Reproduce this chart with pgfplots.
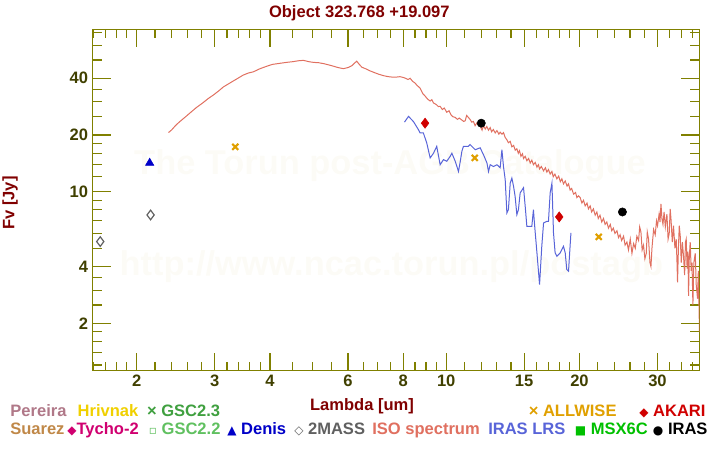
\documentclass[border=0pt]{standalone}
\usepackage{pgfplots}
\pgfplotsset{compat=1.18}
\usepackage{fontspec}
\setmainfont{Liberation Sans}
\newfontfamily\symf{DejaVu Sans}

\definecolor{axcol}{RGB}{128,128,0}
\definecolor{tickcol}{RGB}{64,64,0}
\definecolor{titcol}{RGB}{128,0,0}
\definecolor{isocol}{RGB}{224,112,96}
\definecolor{lrscol}{RGB}{88,100,216}
\definecolor{akcol}{RGB}{208,0,0}
\definecolor{wisecol}{RGB}{224,160,0}
\definecolor{dencol}{RGB}{0,0,200}
\definecolor{tmcol}{RGB}{96,96,96}
\definecolor{perecol}{RGB}{176,120,136}
\definecolor{hrivcol}{RGB}{240,208,0}
\definecolor{gsc3col}{RGB}{64,160,64}
\definecolor{suarcol}{RGB}{192,136,72}
\definecolor{tychcol}{RGB}{208,0,112}
\definecolor{gsc2col}{RGB}{96,192,96}
\definecolor{msxcol}{RGB}{0,192,0}
\definecolor{wmcol}{RGB}{252,251,246}

\newcommand{\lf}{\bfseries\fontsize{12.4}{14}\selectfont}
\newcommand{\sy}[1]{{\symf\fontsize{9}{10}\selectfont #1}}

\begin{document}
\begin{tikzpicture}
\useasboundingbox (0,0) rectangle (540pt,337.5pt);

% faint watermark
\node[anchor=base, inner sep=0, text=wmcol, font=\bfseries\fontsize{25.8}{28}\selectfont] at (292.5pt,206.25pt) {The Torun post-AGB Catalogue};
\node[anchor=base, inner sep=0, text=wmcol, font=\bfseries\fontsize{25.8}{28}\selectfont] at (293.5pt,131.25pt) {http://www.ncac.torun.pl/postagb};

\begin{axis}[
  at={(69.5pt,59.5pt)}, anchor=south west,
  scale only axis,
  width=455pt, height=256pt,
  xmode=log, ymode=log,
  xmin=1.591, xmax=37.3,
  ymin=1.12, ymax=72.8,
  axis line style={axcol, line width=0.9pt},
  every tick/.style={axcol, line width=0.9pt},
  major tick length=13.5pt,
  minor tick length=6.75pt,
  tick align=inside,
  xtick={2,3,4,6,8,10,15,20,30},
  xticklabels={2,3,4,6,8,10,15,20,30},
  minor xtick={1.6,1.7,1.8,1.9,2.2,2.4,2.6,2.8,3.2,3.4,3.6,3.8,4.5,5,5.5,6.5,7,7.5,8.5,9,9.5,11,12,13,14,16,17,18,19,22,24,26,28,32,34,36},
  ytick={2,4,10,20,40},
  yticklabels={2,4,10,20,40},
  minor ytick={1.2,1.4,1.6,1.8,2.5,3,3.5,5,6,7,8,9,12,14,16,18,25,30,35,50,60,70},
  tick label style={font=\lf, text=tickcol},
]

% ISO spectrum
\addplot[isocol, line width=0.75pt, mark=none] coordinates {
  (2.36,20.6)(2.40,21.3)(2.45,22.5)(2.50,23.5)(2.58,25.0)(2.65,26.4)(2.73,28.0)
  (2.82,29.6)(2.90,31.2)(2.98,32.6)(3.06,34.2)(3.14,36.0)(3.22,37.3)(3.28,38.3)
  (3.36,39.6)(3.48,41.6)(3.58,42.7)(3.67,43.3)(3.80,45.0)(3.93,46.3)(4.05,47.4)
  (4.20,48.0)(4.36,48.6)(4.50,49.0)(4.65,49.6)(4.76,49.8)(4.90,49.0)(5.01,48.6)
  (5.15,48.4)(5.30,47.8)(5.45,47.0)(5.56,46.4)(5.70,45.6)(5.86,45.0)(6.00,45.6)
  (6.12,46.6)(6.20,48.0)(6.28,49.3)(6.36,47.5)(6.45,45.8)(6.60,44.8)(6.73,43.8)
  (6.90,42.8)(7.05,42.0)(7.22,41.3)(7.40,40.8)(7.55,40.6)(7.72,40.6)(7.87,40.8)
  (8.00,40.4)(8.10,40.0)(8.20,39.4)(8.29,40.0)(8.40,38.5)(8.50,37.8)(8.60,36.6)
  (8.73,35.5)(8.85,33.2)(8.96,32.2)(9.08,31.0)(9.20,30.3)(9.28,30.8)(9.36,29.6)
  (9.50,29.0)(9.60,28.3)(9.69,28.4)(9.80,27.3)(9.90,27.8)(10.03,26.4)(10.15,26.9)
  (10.25,25.6)(10.35,25.0)(10.48,24.8)(10.60,24.2)(10.70,24.6)(10.85,24.0)
  (10.95,23.6)(11.04,23.8)(11.12,25.4)(11.22,24.8)(11.32,24.2)(11.42,23.4)
  (11.52,23.6)(11.62,22.4)(11.73,23.2)(11.82,22.6)(11.93,22.3)(12.05,21.2)
  (12.14,22.4)(12.25,21.5)(12.35,22.2)(12.46,21.2)(12.57,21.9)(12.66,20.8)
  (12.78,21.4)(12.90,20.5)(13.02,21.1)(13.15,20.2)(13.24,20.7)(13.36,20.2)
  (13.47,20.6)(13.59,19.4)(13.70,18.9)(13.82,18.2)(13.95,18.5)(14.07,17.3)
  (14.20,17.6)(14.32,16.6)(14.44,16.9)(14.55,16.0)(14.64,16.5)(14.75,15.4)
  (14.87,15.9)(14.95,15.0)(15.08,15.4)(15.21,14.6)(15.35,15.0)(15.48,14.2)
  (15.61,14.7)(15.74,13.9)(15.89,14.3)(16.03,13.5)(16.15,13.9)(16.25,13.2)
  (16.40,13.6)(16.59,12.9)(16.75,13.4)(16.88,12.7)(17.02,13.1)(17.17,12.4)
  (17.33,12.8)(17.45,12.0)(17.60,12.4)(17.78,11.7)(17.95,12.1)(18.10,11.3)
  (18.25,11.7)(18.40,11.0)(18.57,11.4)(18.75,10.7)(18.89,11.0)(19.05,10.2)
  (19.20,10.4)(19.40,9.7)(19.60,9.9)(19.73,9.3)(19.90,9.5)
  (20.07,9.3)(20.25,8.7)(20.42,9.0)(20.60,8.4)(20.80,8.7)(20.95,8.1)(21.14,8.4)
  (21.30,7.8)(21.50,8.1)(21.70,7.5)(21.89,7.8)(22.05,7.2)(22.25,7.5)(22.45,6.9)
  (22.66,7.2)(22.85,6.7)(23.05,6.9)(23.25,6.4)(23.47,6.7)(23.65,6.2)(23.85,6.4)
  (24.05,6.0)(24.30,6.2)(24.50,5.7)(24.70,5.9)(24.90,5.5)(25.15,5.8)(25.35,5.2)
  (25.59,5.4)(25.80,4.9)(26.04,5.6)(26.27,4.7)(26.50,5.3)(26.73,5.0)(26.95,5.8)
  (27.19,5.5)(27.35,6.5)(27.53,6.1)(27.70,4.9)(27.90,5.2)(28.10,4.4)(28.30,4.7)
  (28.45,6.1)(28.64,5.6)(28.85,4.2)(29.00,4.0)(29.15,5.0)(29.40,6.3)(29.65,5.9)
  (29.85,7.0)(30.01,6.6)(30.25,7.6)(30.40,6.9)(30.55,8.6)(30.70,7.2)(30.87,6.7)
  (31.05,7.8)(31.25,6.5)(31.51,7.6)(31.70,5.6)(31.89,6.0)(32.05,8.1)(32.18,7.2)
  (32.40,5.4)(32.61,6.6)(32.85,5.0)(33.07,5.6)(33.20,4.3)(33.30,3.3)(33.45,5.0)
  (33.60,6.6)(33.77,5.8)(33.95,4.2)(34.15,5.4)(34.36,4.5)(34.55,3.6)(34.70,5.4)
  (34.84,5.6)(35.00,3.9)(35.15,4.8)(35.26,2.8)(35.40,4.5)(35.57,5.4)(35.75,3.8)
  (35.90,4.2)(36.07,2.5)(36.25,4.2)(36.51,4.7)(36.70,3.2)(36.95,2.7)(37.10,3.8)
  (37.33,1.8)
};

% IRAS LRS
\addplot[lrscol, line width=0.75pt, mark=none] coordinates {
  (8.05,23.4)(8.22,25.1)(8.43,23.6)(8.66,21.3)(8.73,20.5)(8.88,20.5)(9.04,18.1)
  (9.20,15.1)(9.36,16.0)(9.52,17.4)(9.69,13.9)(9.86,14.8)(10.03,14.5)(10.21,15.4)
  (10.30,16.0)(10.48,14.5)(10.66,12.8)(10.76,14.5)(10.85,16.4)(10.94,17.4)
  (11.22,17.4)(11.32,17.8)(11.63,16.7)(11.93,17.1)(12.14,15.7)(12.36,14.2)
  (12.46,12.8)(12.57,13.9)(12.79,13.6)(13.02,13.9)(13.24,13.4)(13.36,16.7)
  (13.47,13.6)(13.59,11.6)(13.71,7.71)(13.82,8.03)(13.95,11.1)(14.07,11.8)
  (14.19,10.7)(14.31,9.44)(14.44,7.55)(14.56,8.03)(14.69,9.84)(14.95,10.5)
  (15.08,8.36)(15.21,6.55)(15.61,6.55)(15.74,8.03)(15.80,7.10)(15.89,6.04)
  (16.03,4.73)(16.25,3.21)(16.44,5.13)(16.59,6.82)(16.88,6.96)(17.02,6.96)
  (17.17,9.84)(17.33,11.1)(17.47,6.04)(17.62,4.73)(17.78,4.54)(18.09,4.73)
  (18.40,5.13)(18.57,4.73)(18.72,3.86)(18.89,3.78)(19.13,6.04)
};

% ALLWISE
\addplot[only marks, mark=x, mark size=3.2pt, wisecol, line width=1.6pt]
  coordinates {(3.34,17.3)(11.6,15.1)(22.1,5.75)};
% AKARI
\addplot[only marks, mark=diamond*, mark size=3.8pt, akcol]
  coordinates {(8.96,23.1)(18.0,7.34)};
% IRAS
\addplot[only marks, mark=*, mark size=3.1pt, black]
  coordinates {(12.0,23.1)(25.0,7.80)};
% Denis
\addplot[only marks, mark=triangle*, mark size=3.6pt, dencol]
  coordinates {(2.14,14.2)};
% 2MASS
\addplot[only marks, mark=diamond, mark size=3.6pt, tmcol, line width=0.9pt]
  coordinates {(2.15,7.52)(1.655,5.43)};
\end{axis}

% title and axis labels
\node[anchor=base, inner sep=0, text=titcol, font=\lf] at (269.5pt,324.5pt) {Object 323.768 +19.097};
\node[anchor=base, inner sep=0, text=titcol, font=\lf] at (271.5pt,30pt) {Lambda [um]};
\node[anchor=center, inner sep=0, rotate=90, text=titcol, font=\lf] at (7.5pt,185.25pt) {Fv [Jy]};

% legend row 1
\node[anchor=base west, inner sep=0, text=perecol, font=\lf] at (7.65pt,25.5pt) {Pereira};
\node[anchor=base west, inner sep=0, text=hrivcol, font=\lf] at (58.1pt,25.5pt) {Hrivnak};
\node[anchor=base west, inner sep=0, text=gsc3col, font=\lf] at (110.1pt,25.5pt) {× GSC2.3};
\node[anchor=base west, inner sep=0, text=wisecol, font=\lf] at (396.4pt,25.5pt) {× ALLWISE};
\node[anchor=base west, inner sep=0, text=akcol, font=\lf] at (479.3pt,25.5pt) {\sy{◆} AKARI};
% legend row 2
\node[anchor=base west, inner sep=0, text=suarcol, font=\lf] at (7.5pt,11.8pt) {Suarez};
\node[anchor=base west, inner sep=0, text=tychcol, font=\lf] at (50.3pt,11.8pt) {\sy{◆}Tycho-2};
\node[anchor=base west, inner sep=0, text=gsc2col, font=\lf] at (111.5pt,11.8pt) {\sy{▫} GSC2.2};
\node[anchor=base west, inner sep=0, text=dencol, font=\lf] at (170.3pt,11.8pt) {\sy{▲} Denis};
\node[anchor=base west, inner sep=0, text=tmcol, font=\lf] at (220.5pt,11.8pt) {\sy{◇} 2MASS};
\node[anchor=base west, inner sep=0, text=isocol, font=\lf] at (279pt,11.8pt) {ISO spectrum};
\node[anchor=base west, inner sep=0, text=lrscol, font=\lf] at (366pt,11.8pt) {IRAS LRS};
\node[anchor=base west, inner sep=0, text=msxcol, font=\lf] at (431pt,11.8pt) {\sy{■} MSX6C};
\node[anchor=base west, inner sep=0, text=black, font=\lf] at (489.5pt,11.8pt) {\sy{●} IRAS};
\end{tikzpicture}
\end{document}
